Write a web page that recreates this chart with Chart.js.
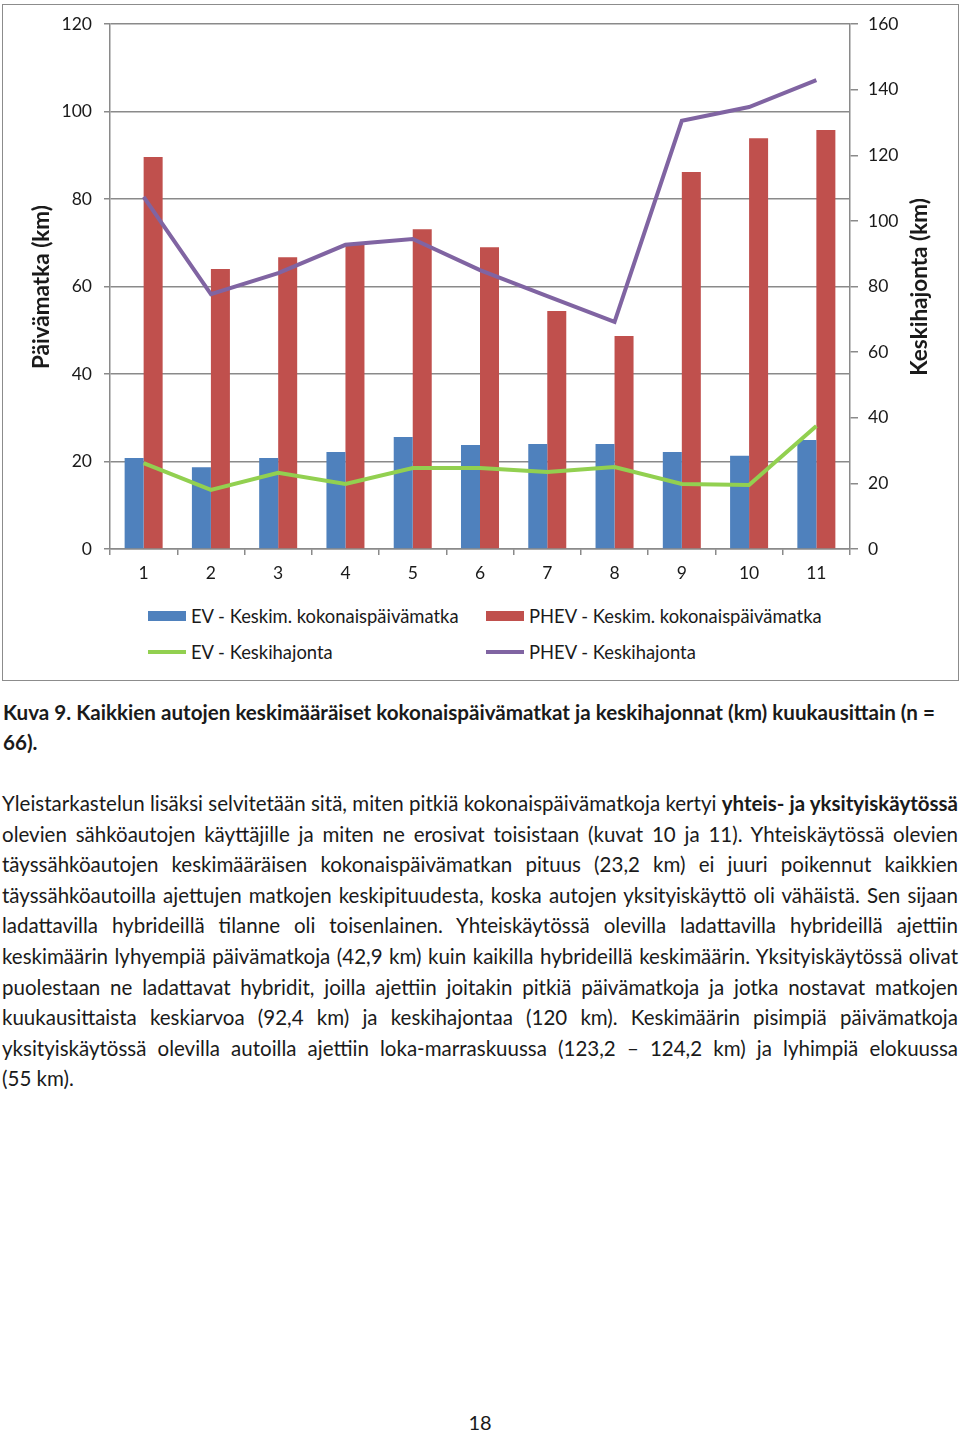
<!DOCTYPE html>
<html>
<head>
<meta charset="utf-8">
<script src="https://cdn.jsdelivr.net/npm/chart.js@4.4.1/dist/chart.umd.min.js"></script>
<style>
  html, body { margin: 0; padding: 0; background: #fff; }
  body { width: 960px; height: 1432px; position: relative; overflow: hidden;
         font-family: Lato, "Open Sans", sans-serif; color: #1a1a1a; }
  #frame { position: absolute; left: 2px; top: 4px; width: 955px; height: 675px;
           border: 1px solid #8c8c8c; }
  #chartWrap { position: absolute; left: 0; top: 0; width: 960px; height: 600px; }
  .leg { position: absolute; font-size: 18.4px; line-height: 20px; white-space: nowrap; }
  .sw { position: absolute; }
  .caption { position: absolute; left: 3px; top: 697px; font-weight: bold; font-size: 19px;
             line-height: 30px; white-space: nowrap; }
  #body { position: absolute; left: 2px; top: 788px; width: 957px; font-size: 19px; }
  .ln { height: 30.6px; line-height: 30.6px; white-space: nowrap; }
  .ln span { display: inline-block; }
  #page { position: absolute; left: 0; width: 960px; top: 1410px; text-align: center; font-size: 20px; }
</style>
</head>
<body>
<div id="frame"></div>
<div id="chartWrap"><canvas id="myChart" width="960" height="600"></canvas></div>

<div class="sw" style="left:148px;top:611px;width:38px;height:10px;background:#4F81BD"></div>
<div class="leg" style="left:191px;top:606px">EV - Keskim. kokonaispäivämatka</div>
<div class="sw" style="left:486px;top:611px;width:38px;height:10px;background:#C0504D"></div>
<div class="leg" style="left:529px;top:606px">PHEV - Keskim. kokonaispäivämatka</div>
<div class="sw" style="left:148px;top:650px;width:38px;height:4px;background:#92D050"></div>
<div class="leg" style="left:191px;top:642px">EV - Keskihajonta</div>
<div class="sw" style="left:486px;top:650px;width:38px;height:4px;background:#8064A2"></div>
<div class="leg" style="left:529px;top:642px">PHEV - Keskihajonta</div>

<div class="caption" id="caption"><span class="fit" data-w="932">Kuva 9. Kaikkien autojen keskimääräiset kokonaispäivämatkat ja keskihajonnat (km) kuukausittain (n =</span><br>66).</div>

<div id="body">
  <div class="ln"><span class="fit" id="first" data-w="956">Yleistarkastelun lisäksi selvitetään sitä, miten pitkiä kokonaispäivämatkoja kertyi <b>yhteis- ja yksityiskäytössä</b></span></div>
  <div class="ln"><span class="fit" data-w="956">olevien sähköautojen käyttäjille ja miten ne erosivat toisistaan (kuvat 10 ja 11). Yhteiskäytössä olevien</span></div>
  <div class="ln"><span class="fit" data-w="956">täyssähköautojen keskimääräisen kokonaispäivämatkan pituus (23,2 km) ei juuri poikennut kaikkien</span></div>
  <div class="ln"><span class="fit" data-w="956">täyssähköautoilla ajettujen matkojen keskipituudesta, koska autojen yksityiskäyttö oli vähäistä. Sen sijaan</span></div>
  <div class="ln"><span class="fit" data-w="956">ladattavilla hybrideillä tilanne oli toisenlainen. Yhteiskäytössä olevilla ladattavilla hybrideillä ajettiin</span></div>
  <div class="ln"><span class="fit" data-w="956">keskimäärin lyhyempiä päivämatkoja (42,9 km) kuin kaikilla hybrideillä keskimäärin. Yksityiskäytössä olivat</span></div>
  <div class="ln"><span class="fit" data-w="956">puolestaan ne ladattavat hybridit, joilla ajettiin joitakin pitkiä päivämatkoja ja jotka nostavat matkojen</span></div>
  <div class="ln"><span class="fit" data-w="956">kuukausittaista keskiarvoa (92,4 km) ja keskihajontaa (120 km). Keskimäärin pisimpiä päivämatkoja</span></div>
  <div class="ln"><span class="fit" data-w="956">yksityiskäytössä olevilla autoilla ajettiin loka-marraskuussa (123,2 – 124,2 km) ja lyhimpiä elokuussa</span></div>
  <div class="ln"><span>(55 km).</span></div>
</div>

<div id="page">18</div>

<script>
'use strict';

// data
const months = ['1', '2', '3', '4', '5', '6', '7', '8', '9', '10', '11'];
const evMean = [20.8, 18.7, 20.8, 22.2, 25.6, 23.8, 24.0, 24.0, 22.2, 21.3, 24.9];
const phevMean = [89.6, 64.0, 66.7, 69.5, 73.1, 69.0, 54.4, 48.7, 86.2, 93.9, 95.8];
const evStd = [26.2, 18.0, 23.2, 19.8, 24.7, 24.7, 23.5, 25.0, 19.8, 19.5, 37.5];
const phevStd = [107.3, 77.7, 84.1, 92.7, 94.5, 85.0, 77.1, 69.2, 130.5, 134.7, 142.9];
const leftTicks = [0, 20, 40, 60, 80, 100, 120];
const rightTicks = [0, 20, 40, 60, 80, 100, 120, 140, 160];

// size the page text so the unjustified lines come out as wide as in the original
function scaleFont(box, el) {
  var w = el.getBoundingClientRect().width;
  var fs = parseFloat(getComputedStyle(box).fontSize);
  box.style.fontSize = (fs * (+el.dataset.w) / w) + 'px';
}
scaleFont(document.getElementById('body'), document.getElementById('first'));
var cap = document.getElementById('caption');
scaleFont(cap, cap.querySelector('.fit'));

// then stretch each justified line to the full width
document.querySelectorAll('.fit').forEach(function (el) {
  var natural = el.getBoundingClientRect().width;
  var spaces = (el.textContent.match(/ /g) || []).length;
  if (spaces) el.style.wordSpacing = ((+el.dataset.w - natural) / spaces) + 'px';
});

const gridCol = '#8a8a8a';
const tickFont = { family: 'Lato', size: 17.5 };

// axis titles, both reading bottom to top
const axisTitles = {
  id: 'axisTitles',
  afterDraw: function (chart) {
    var ctx = chart.ctx;
    var items = [['Päivämatka (km)', 42], ['Keskihajonta (km)', 920]];
    ctx.save();
    ctx.font = 'bold 22.5px Lato';
    ctx.fillStyle = '#1a1a1a';
    ctx.textAlign = 'center';
    ctx.textBaseline = 'middle';
    items.forEach(function (it) {
      ctx.save();
      ctx.translate(it[1], 287);
      ctx.rotate(-Math.PI / 2);
      ctx.fillText(it[0], 0, 0);
      ctx.restore();
    });
    ctx.restore();
  }
};

const config = {
  type: 'bar',
  data: {
    labels: months,
    datasets: [
      { type: 'line', label: 'EV - Keskihajonta', data: evStd, yAxisID: 'y1',
        borderColor: '#92D050', borderWidth: 4, pointRadius: 0, tension: 0, order: 0 },
      { type: 'line', label: 'PHEV - Keskihajonta', data: phevStd, yAxisID: 'y1',
        borderColor: '#8064A2', borderWidth: 4, pointRadius: 0, tension: 0, order: 0 },
      { label: 'EV - Keskim. kokonaispäivämatka', data: evMean, yAxisID: 'y',
        backgroundColor: '#4F81BD', order: 1 },
      { label: 'PHEV - Keskim. kokonaispäivämatka', data: phevMean, yAxisID: 'y',
        backgroundColor: '#C0504D', order: 1 }
    ]
  },
  options: {
    responsive: false,
    animation: false,
    devicePixelRatio: 1,
    layout: { padding: { top: 24, left: 0, right: 0, bottom: 0 } },
    datasets: { bar: { barPercentage: 1, categoryPercentage: 0.565 } },
    plugins: { legend: { display: false }, tooltip: { enabled: false } },
    scales: {
      x: {
        offset: true,
        grid: { offset: true, drawOnChartArea: false, drawTicks: true, tickLength: 6, color: gridCol, lineWidth: 1.5 },
        border: { display: true, color: gridCol, width: 1.5 },
        ticks: { font: tickFont, color: '#1a1a1a', padding: 8, maxRotation: 0 },
        afterFit: function (s) { s.height = 51; }
      },
      y: {
        position: 'left', min: 0, max: 120,
        afterBuildTicks: function (s) { s.ticks = leftTicks.map(function (v) { return { value: v }; }); },
        grid: { drawTicks: true, tickLength: 6, color: gridCol, lineWidth: 1.5 },
        border: { display: true, color: gridCol, width: 1.5 },
        ticks: { font: tickFont, color: '#1a1a1a', padding: 12 },
        afterFit: function (s) { s.width = 110; }
      },
      y1: {
        position: 'right', min: 0, max: 160,
        afterBuildTicks: function (s) { s.ticks = rightTicks.map(function (v) { return { value: v }; }); },
        grid: { drawOnChartArea: false, drawTicks: true, tickLength: 8, color: gridCol, lineWidth: 1.5 },
        border: { display: true, color: gridCol, width: 1.5 },
        ticks: { font: tickFont, color: '#1a1a1a', padding: 10 },
        afterFit: function (s) { s.width = 110; }
      }
    }
  },
  plugins: [axisTitles]
};

var myChart = new Chart(document.getElementById('myChart'), config);
</script>
</body>
</html>
